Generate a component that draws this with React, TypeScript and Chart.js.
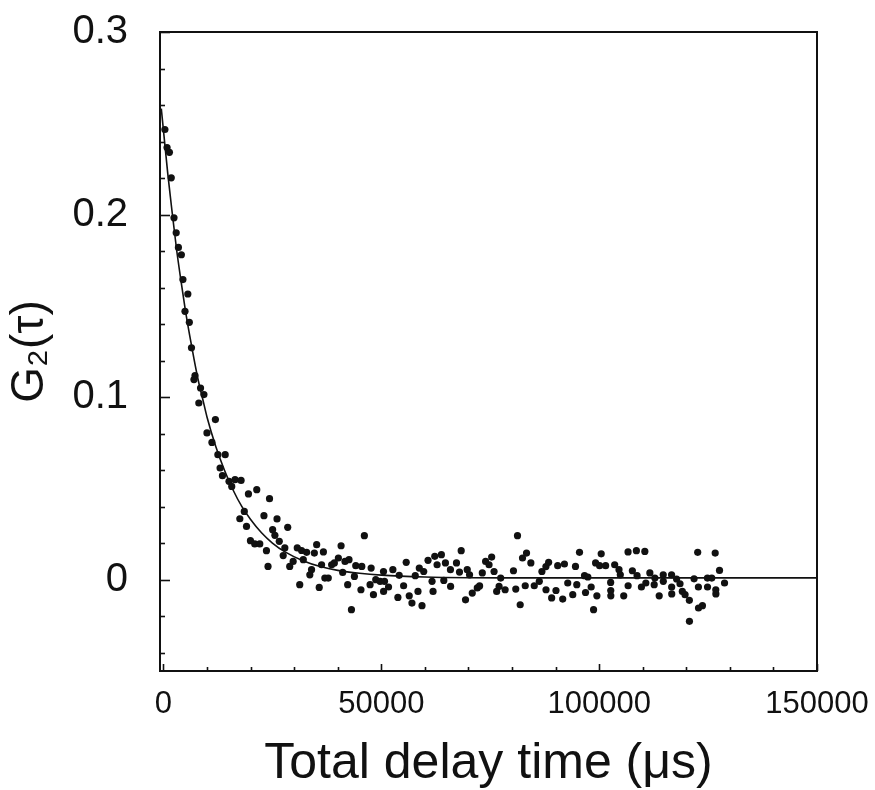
import React, { useEffect, useRef } from 'react';
import { Chart, registerables } from 'chart.js';

Chart.register(...registerables);

// Measured points: total delay time (µs)
const pointTimes = [
  323, 819, 1361, 1783, 2411, 2918, 3426, 4106,
  4459, 5590, 4937, 5936, 6425, 7235, 6997, 8506, 9279, 8111, 11916,
  9980, 11120, 12481, 14165, 12990, 13533, 15042, 16425, 17810, 15664, 19500, 21410, 24340,
  18550, 17524, 23060, 26060, 19056, 28515, 25054, 25573, 19956, 20948, 22101, 26577, 23631,
  27852, 27476, 23993, 28976, 29760, 30706, 31698, 32852, 32090, 34628, 35159, 36704, 33982,
  33590, 36289, 38596, 39219, 40142, 40765, 41664, 42587, 41134, 37039, 37823, 31271, 35747,
  42276, 44133, 45517, 43821, 46105, 47663, 47420, 45323, 48193, 48724, 49716, 43141,
  81253, 68333, 63789, 62266, 60720, 55714, 52646, 50500, 54099, 57790, 58713, 59728, 62797,
  64711, 67249, 65865, 67941, 69718, 70248, 73178, 73939, 75324, 74724, 75877, 77400, 80330,
  82406, 83329, 84321, 86859, 87782, 88404, 90481, 92026, 94564, 95487,
  50731, 51654, 50520, 53800, 55114, 56406, 57029, 58413, 59336, 61643, 61874, 64342, 65900,
  69326, 70871, 72025, 72555, 76477, 77031, 78415, 80860, 81875, 83029, 85105, 86259, 87800,
  89096, 90088, 91634, 92788, 93941, 94864,
  96640, 97402, 100470, 99178, 100100, 101485, 103561, 104553, 104853, 106630, 108544, 110482,
  107622, 108706, 111636, 112789, 114704, 116619, 117772, 121787, 122617, 124855, 125847,
  126631, 127623,
  98163, 96871, 99478, 98717, 102638, 102660, 102680, 105637, 106650, 109698, 110713, 112628,
  113781, 114720, 116640, 116660, 118557, 119087, 119710, 120702, 122779, 122800, 123701,
  120720, 124870, 126770, 126790, 128777,
];

// Measured points: G2(tau)
const pointValues = [
  0.2466, 0.2367, 0.2341, 0.2201, 0.1982, 0.19, 0.182, 0.178,
  0.1644, 0.1565, 0.147, 0.141, 0.127, 0.1118, 0.1096, 0.105, 0.1014, 0.0968, 0.0877,
  0.0804, 0.0752, 0.0685, 0.0685, 0.0612, 0.057, 0.0539, 0.0548, 0.0544, 0.0511, 0.047, 0.0493, 0.0444,
  0.0374, 0.0334, 0.0351, 0.0333, 0.0292, 0.0287, 0.0274, 0.0243, 0.0214, 0.0196, 0.0196, 0.021, 0.0159,
  0.0174, 0.0132, 0.0073, 0.0073, 0.01, 0.0174, 0.016, 0.015, 0.011, 0.0146, 0.0192, 0.0152, 0.0055,
  0.0027, 0.0082, 0.0082, 0.0092, 0.0119, 0.0186, 0.01, 0.011, 0.004, 0.0009, 0.0009, -0.0027, -0.0042,
  -0.0027, 0.0077, 0.0073, 0.0018, 0.0241, 0.0064, -0.0027, -0.0055, -0.0082, 0, -0.0009, -0.0164,
  0.0241, 0.0159, 0.0137, 0.0128, 0.0106, 0.0095, 0.0055, 0.0045, 0.0024, 0.0022, 0.0064, 0.0045, 0.0082,
  0.0092, 0.0092, 0.0055, 0.0042, 0.0055, 0.0027, 0.0037, 0.01, 0.0124, 0.0082, 0.0045, 0.0009, 0.0049,
  0.0119, 0.0146, 0.0092, 0.0045, 0.0072, 0.0095, 0.0077, 0.0086, 0.0073, 0.015,
  -0.0009, -0.004, -0.0064, -0.0097, -0.0033, -0.0088, -0.0128, -0.0064, -0.0142, -0.0009, -0.0064, -0.0004, -0.0037,
  -0.011, -0.0073, -0.0045, -0.0034, -0.0064, -0.0037, -0.0055, -0.0051, -0.0137, -0.0033, -0.0033, -0.0009, -0.0055,
  -0.01, -0.0059, -0.0106, -0.0018, -0.0082, -0.0027,
  0.0022, 0.0015, 0.0142, 0.0092, 0.0077, 0.0077, 0.0082, 0.0055, 0.0027, 0.0152, 0.0159, 0.0155,
  0.0049, 0.0022, 0.0037, 0.0009, 0.0027, 0.0027, 0.0004, 0.0005, 0.015, 0.0009, 0.0009,
  0.0146, 0.0051,
  -0.004, -0.007, -0.0088, -0.0164, -0.0015, -0.0059, -0.0088, -0.0088, -0.0033, -0.004, -0.0018, -0.0027,
  -0.0088, -0.0009, -0.004, -0.0078, -0.0022, -0.0064, -0.0082, -0.0113, -0.004, -0.0155, -0.0142,
  -0.0228, -0.004, -0.0055, -0.0078, -0.0018,
];

// Fitted curve
const fitTimes = [
  -500, 0, 1000, 2000, 3000, 4000, 5000, 6000, 7000, 8000, 9000, 10000, 12000, 14000, 16000,
  18000, 20000, 22500, 25000, 28000, 32000, 36000, 40000, 45000, 50000, 60000, 70000, 80000, 150000,
];
const fitValues = [
  0.258, 0.246, 0.222, 0.201, 0.181, 0.164, 0.148, 0.134, 0.121, 0.109, 0.099, 0.089, 0.073, 0.06, 0.049,
  0.04, 0.033, 0.0257, 0.0201, 0.0151, 0.0104, 0.0072, 0.0051, 0.0035, 0.0025, 0.0015, 0.0011, 0.001, 0.001,
];

// Axis ticks: labelled (major) values and minor tick positions
const xLabelValues = [0, 50000, 100000, 150000];
const yLabelValues = [0, 0.1, 0.2, 0.3];
const xTickValues = [
  0, 10000, 20000, 30000, 40000, 50000, 60000, 70000, 80000, 90000, 100000, 110000, 120000,
  130000, 140000, 150000,
];
const yTickValues = [
  -0.04, -0.02, 0, 0.02, 0.04, 0.06, 0.08, 0.1, 0.12, 0.14, 0.16, 0.18, 0.2, 0.22, 0.24, 0.26,
  0.28, 0.3,
];

const FONT = "'Liberation Sans', Arial, Helvetica, sans-serif";
const INK = '#111111';

const isLabelValue = (list: number[], v: number, eps: number) =>
  list.some((m) => Math.abs(m - v) < eps);

const frameTicksPlugin = {
  id: 'frameTicks',
  afterDatasetsDraw(chart: any) {
    const { ctx, chartArea: a, scales } = chart;
    ctx.save();
    ctx.strokeStyle = INK;
    ctx.lineWidth = 2;
    ctx.strokeRect(a.left, a.top, a.right - a.left, a.bottom - a.top);
    ctx.lineWidth = 1.6;
    scales.y.ticks.forEach((t: any) => {
      const v = t.value;
      const major = isLabelValue(yLabelValues, v, 1e-9);
      const py = Math.round(scales.y.getPixelForValue(v)) + 0.5;
      ctx.beginPath();
      ctx.moveTo(a.left, py);
      ctx.lineTo(a.left + (major ? 10 : 5), py);
      ctx.stroke();
    });
    scales.x.ticks.forEach((t: any) => {
      const v = t.value;
      const major = isLabelValue(xLabelValues, v, 1e-6);
      const px = Math.round(scales.x.getPixelForValue(v)) + 0.5;
      ctx.beginPath();
      ctx.moveTo(px, a.bottom);
      ctx.lineTo(px, a.bottom - (major ? 7 : 4));
      ctx.stroke();
    });
    ctx.restore();
  },
};

export default function App() {
  const canvasRef = useRef<HTMLCanvasElement | null>(null);

  useEffect(() => {
    document.body.style.margin = '0';
    const canvas = canvasRef.current;
    if (!canvas) return;

    const points = pointTimes.map((t, i) => ({ x: t, y: pointValues[i] }));
    const fit = fitTimes.map((t, i) => ({ x: t, y: fitValues[i] }));

    const chart = new Chart(canvas, {
      type: 'scatter',
      data: {
        datasets: [
          {
            label: 'G2',
            data: points,
            showLine: false,
            pointRadius: 3.6,
            pointBackgroundColor: INK,
            pointBorderColor: INK,
            pointBorderWidth: 0,
            order: 2,
          },
          {
            label: 'fit',
            data: fit,
            showLine: true,
            pointRadius: 0,
            borderColor: INK,
            borderWidth: 1.6,
            cubicInterpolationMode: 'monotone',
            fill: false,
            order: 1,
          } as any,
        ],
      },
      options: {
        responsive: false,
        animation: false,
        layout: { autoPadding: false, padding: { top: 32, right: 58, left: 0, bottom: 0 } },
        plugins: {
          legend: { display: false },
          tooltip: { enabled: false },
        },
        scales: {
          x: {
            type: 'linear',
            min: -800,
            max: 150000,
            grid: { display: false },
            border: { display: false },
            afterFit: (scale: any) => {
              scale.height = 119;
              scale.paddingLeft = 0;
              scale.paddingRight = 0;
            },
            afterBuildTicks: (scale: any) => {
              scale.ticks = xTickValues.map((v) => ({ value: v }));
            },
            ticks: {
              autoSkip: false,
              maxRotation: 0,
              minRotation: 0,
              padding: 7,
              color: INK,
              font: { family: FONT, size: 31 },
              callback: (v: any) => {
                const n = Number(v);
                return isLabelValue(xLabelValues, n, 1e-6) ? String(Math.round(n)) : '';
              },
            },
            title: {
              display: true,
              text: 'Total delay time (μs)',
              color: INK,
              font: { family: FONT, size: 50, lineHeight: 1 },
              padding: { top: 0, bottom: 1 },
            },
          },
          y: {
            type: 'linear',
            min: -0.05,
            max: 0.3,
            grid: { display: false },
            border: { display: false },
            afterFit: (scale: any) => {
              scale.width = 160;
              scale.paddingTop = 0;
              scale.paddingBottom = 0;
            },
            afterBuildTicks: (scale: any) => {
              scale.ticks = yTickValues.map((v) => ({ value: v }));
            },
            ticks: {
              autoSkip: false,
              padding: 24,
              color: INK,
              font: { family: FONT, size: 40 },
              callback: (v: any) => {
                const n = Number(v);
                return isLabelValue(yLabelValues, n, 1e-9) ? String(Math.round(n * 10) / 10) : '';
              },
            },
            title: {
              display: true,
              text: 'G₂(τ)',
              color: INK,
              font: { family: FONT, size: 46, lineHeight: 1.2 },
              padding: { top: 3, bottom: 0 },
            },
          },
        },
      },
      plugins: [frameTicksPlugin],
    });

    return () => {
      chart.destroy();
    };
  }, []);

  return (
    <div style={{ width: 875, height: 790, background: '#ffffff' }}>
      <canvas ref={canvasRef} width={875} height={790} style={{ display: 'block' }} />
    </div>
  );
}
